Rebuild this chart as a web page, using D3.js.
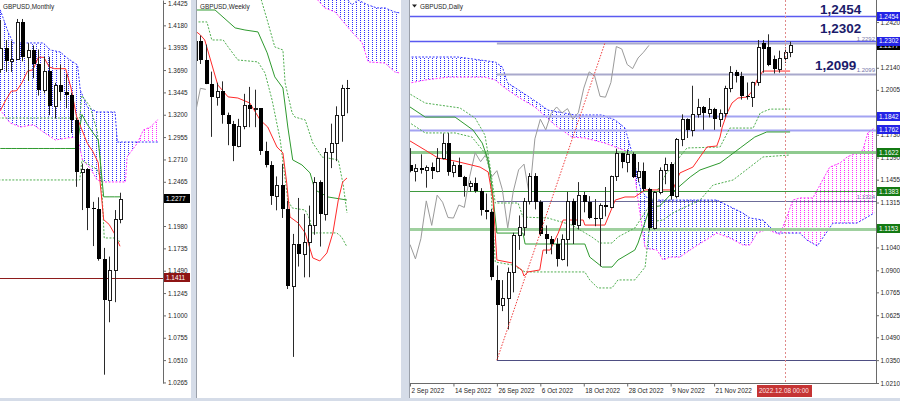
<!DOCTYPE html>
<html><head><meta charset="utf-8">
<script src="https://cdn.jsdelivr.net/npm/d3@7/dist/d3.min.js"></script>
<style>
html,body{margin:0;padding:0;background:#d5dce8;overflow:hidden}
svg{display:block}
text{font-family:"Liberation Sans",Arial,sans-serif}
</style></head><body>
<svg id="chart" width="900" height="401"></svg>
<script>
// ================= DATA =================
// ---- Monthly (index 0 = Feb 2021 ... 22 = Dec 2022)
const mOpen  = [1.3705,1.3930,1.3785,1.3810,1.4220,1.3830,1.3905,1.3755,1.3470,1.3680,1.3300,1.3530,1.3445,1.3415,1.3140,1.2570,1.2600,1.2177,1.2163,1.1620,1.1170,1.1495,1.2055];
const mHigh  = [1.4240,1.4018,1.4010,1.4250,1.4250,1.3985,1.3960,1.3915,1.3835,1.3835,1.3550,1.3750,1.3645,1.3440,1.3165,1.2665,1.2615,1.2245,1.2295,1.1740,1.1645,1.2155,1.2345];
const mLow   = [1.3660,1.3670,1.3670,1.3800,1.3785,1.3570,1.3600,1.3410,1.3435,1.3195,1.3160,1.3355,1.3270,1.3000,1.2410,1.2155,1.1935,1.1760,1.1600,1.0350,1.0925,1.1145,1.2010];
const mClose = [1.3930,1.3785,1.3810,1.4220,1.3830,1.3905,1.3755,1.3470,1.3680,1.3300,1.3530,1.3445,1.3415,1.3140,1.2570,1.2600,1.2177,1.2163,1.1620,1.1170,1.1495,1.2055,1.2277];
const mTenkan = [1.3245,1.3360,1.3458,1.3463,1.3553,1.3678,1.3693,1.3830,1.3830,1.3723,1.3705,1.3705,1.3705,1.3493,1.3185,1.3035,1.2885,1.2798,1.2675,1.2050,1.1998,1.1895,1.1758];
const mKijun  = [1.2830,1.2830,1.2830,1.2830,1.2830,1.2830,1.2830,1.2830,1.2830,1.2830,1.2830,1.2830,1.2830,1.2830,1.2830,1.3203,1.3093,1.3005,1.2925,1.2300,1.2300,1.2300,1.2300];
const mSpanA = [[-1,1.4450],[0,1.4348],[1.5,1.4096],[2.4,1.3987],[7.9,1.3987],[9.2,1.3910],[11,1.3888],[12.3,1.3822],[14.2,1.3745],[14.7,1.3471],[16,1.3285],[17.8,1.3230],[21.1,1.3230],[21.5,1.2901],[29,1.2901]];
const mSpanB = [[-1,1.3360],[0,1.3252],[1.8,1.3110],[3.7,1.3066],[6.1,1.3090],[7.9,1.3011],[10.1,1.2923],[12.3,1.2945],[14.2,1.2956],[15.1,1.2704],[16.5,1.2616],[17.8,1.2485],[18.9,1.2463],[23,1.2463],[23.3,1.2737],[25.2,1.2890],[26.3,1.3033],[27.6,1.3066],[28.9,1.3143],[29,1.3143]];
const mDash1 = [[-1,1.3164],[14.6,1.3164],[15,1.3410],[16.5,1.3290],[17.8,1.3020],[18.4,1.2700],[18.9,1.2101],[19.1,1.1849],[21.5,1.1849],[22,1.1800]];
const mDash2 = [[-1,1.2485],[14.6,1.2485],[15,1.2700],[17.8,1.2600],[18.6,1.2485]];
const mTicks = ["1.4425","1.4180","1.3935","1.3690","1.3445","1.3200","1.2955","1.2710","1.2465","1.1980","1.1735","1.1490","1.1245","1.1000","1.0755","1.0510","1.0265"];
const mDateIdx = [-2,6,14,22];
const mDateLabels = ["1 Dec 2020","1 Aug 2021","1 Apr 2022","1 Dec 2022"];
const mLevel = 1.1411;
const mBoxes = [1.2277,1.1411];

// ---- Weekly (position 0 = week of 22 May 2022 ... 28 = week of 4 Dec 2022), week index w = position-1
const wOpen  = [1.2490,1.2625,1.2490,1.2315,1.2220,1.2265,1.2095,1.2030,1.1870,1.2010,1.2165,1.2135,1.2140,1.1830,1.1735,1.1510,1.1590,1.1418,1.0859,1.1166,1.1090,1.1175,1.1300,1.1610,1.1380,1.1825,1.1890,1.2090,1.2285];
const wHigh  = [1.2645,1.2665,1.2600,1.2405,1.2325,1.2335,1.2110,1.2050,1.2065,1.2245,1.2295,1.2275,1.2140,1.1900,1.1760,1.1650,1.1740,1.1475,1.1236,1.1495,1.1380,1.1440,1.1645,1.1622,1.1855,1.2030,1.2155,1.2310,1.2345];
const wLow   = [1.2475,1.2460,1.2315,1.1935,1.2160,1.2030,1.1875,1.1760,1.1860,1.1990,1.2005,1.2005,1.1805,1.1715,1.1445,1.1406,1.1351,1.0839,1.0350,1.1001,1.0923,1.0924,1.1230,1.1145,1.1332,1.1710,1.1760,1.1900,1.2105];
const wClose = [1.2625,1.2490,1.2315,1.2220,1.2265,1.2095,1.2030,1.1870,1.2010,1.2165,1.2135,1.2140,1.1830,1.1735,1.1510,1.1590,1.1418,1.0859,1.1166,1.1090,1.1175,1.1300,1.1610,1.1380,1.1825,1.1890,1.2090,1.2285,1.2277];
const wTenkan = [[-1,1.2700],[0,1.2669],[0.8,1.2633],[3.2,1.2309],[5.1,1.2223],[6.9,1.2215],[9.1,1.2179],[11,1.2057],[12.4,1.2006],[14.1,1.1862],[15.2,1.1819],[15.9,1.1603],[16.5,1.1358],[18,1.1315],[19.3,1.1243],[20.7,1.1063],[22,1.1041],[23.3,1.1099],[24.4,1.1243],[25.4,1.1481],[26.2,1.1610],[27,1.1639]];
const wKijun  = [[-1,1.2849],[2.7,1.2849],[6.4,1.2720],[8.2,1.2705],[10.6,1.2691],[12.3,1.2540],[13.7,1.2367],[15.2,1.2287],[16.1,1.2006],[17,1.1769],[18.7,1.1733],[20.2,1.1675],[21.1,1.1553],[23.5,1.1502],[27,1.1480]];
const wDash1  = [[-1,1.2763],[1.2,1.2763],[2.1,1.2633],[4.2,1.2633],[5.1,1.2583],[6.9,1.2489],[10.6,1.2475],[11.9,1.2395],[13.2,1.2201],[14.7,1.1913],[16.1,1.1480],[16.9,1.1423],[19.3,1.1408],[20.2,1.1336],[20.5,1.1243],[25.1,1.1243],[26,1.1214],[27,1.1142]];
const wDash2  = [[11,1.2950],[12.3,1.2777],[13.7,1.2583],[15.2,1.2561],[15.6,1.2323],[16.9,1.2107],[17.4,1.2078],[19.3,1.2057],[20.7,1.1891],[22.4,1.1790],[25.4,1.1769],[26.3,1.1589],[27,1.1387]];
const wSpanA  = [[15,1.3400],[21.6,1.3100],[25.7,1.2993],[27.9,1.2885],[29,1.2921],[30.9,1.2885],[32.5,1.2864],[34,1.2864],[35.8,1.2835],[36.7,1.2828]];
const wSpanB  = [[15,1.3200],[21.6,1.2921],[22.9,1.2864],[24.8,1.2835],[27.9,1.2691],[29.8,1.2612],[30.9,1.2475],[34,1.2467],[35.8,1.2403],[36.7,1.2395]];
const wDateIdx = [-2,6,14,22];
const wDateLabels = ["15 May 2022","10 Jul 2022","4 Sep 2022","30 Oct 2022"];

// ---- Daily (index 0 = 2 Sep 2022 ... 70 = 9 Dec 2022)
const dOpen  = [1.1545,1.1510,1.1525,1.1514,1.1532,1.1505,1.1588,1.1681,1.1500,1.1542,1.1472,1.1418,1.1436,1.1383,1.1270,1.1255,1.0840,1.0685,1.0733,1.0887,1.1116,1.1166,1.1325,1.1475,1.1320,1.1125,1.1090,1.1058,1.0970,1.1093,1.1325,1.1175,1.1360,1.1317,1.1223,1.1220,1.1300,1.1285,1.1475,1.1620,1.1565,1.1610,1.1470,1.1510,1.1395,1.1160,1.1380,1.1515,1.1550,1.1355,1.1705,1.1825,1.1760,1.1860,1.1900,1.1864,1.1890,1.1825,1.1865,1.2015,1.2115,1.2090,1.1965,1.1960,1.2050,1.2290,1.2270,1.2195,1.2135,1.2200,1.2235];
const dHigh  = [1.1648,1.1550,1.1610,1.1542,1.1560,1.1648,1.1738,1.1740,1.1565,1.1590,1.1478,1.1448,1.1468,1.1403,1.1370,1.1275,1.0930,1.0840,1.0917,1.1130,1.1236,1.1343,1.1495,1.1495,1.1329,1.1175,1.1110,1.1097,1.1120,1.1380,1.1339,1.1440,1.1380,1.1354,1.1336,1.1310,1.1410,1.1480,1.1645,1.1620,1.1640,1.1622,1.1563,1.1560,1.1405,1.1385,1.1530,1.1590,1.1563,1.1710,1.1855,1.1830,1.2030,1.1950,1.1906,1.1955,1.1895,1.1885,1.2030,1.2150,1.2127,1.2115,1.2050,1.2055,1.2310,1.2310,1.2345,1.2215,1.2245,1.2265,1.2300];
const dLow   = [1.1500,1.1444,1.1492,1.1406,1.1459,1.1500,1.1579,1.1479,1.1470,1.1472,1.1351,1.1382,1.1375,1.1235,1.1212,1.0839,1.0350,1.0650,1.0538,1.0765,1.1025,1.1112,1.1303,1.1273,1.1110,1.1001,1.0998,1.0923,1.0960,1.0924,1.1061,1.1150,1.1255,1.1213,1.1170,1.0924,1.1230,1.1280,1.1447,1.1525,1.1500,1.1465,1.1440,1.1385,1.1145,1.1150,1.1365,1.1427,1.1332,1.1340,1.1660,1.1710,1.1720,1.1835,1.1760,1.1836,1.1760,1.1778,1.1840,1.1990,1.2050,1.1945,1.1945,1.1900,1.2030,1.2110,1.2150,1.2105,1.2110,1.2170,1.2205];
const dClose = [1.1510,1.1525,1.1514,1.1532,1.1505,1.1588,1.1681,1.1500,1.1542,1.1472,1.1418,1.1436,1.1383,1.1270,1.1255,1.0859,1.0685,1.0733,1.0887,1.1116,1.1166,1.1325,1.1475,1.1320,1.1125,1.1090,1.1058,1.0970,1.1093,1.1325,1.1175,1.1360,1.1317,1.1223,1.1220,1.1300,1.1285,1.1475,1.1620,1.1565,1.1610,1.1470,1.1510,1.1395,1.1160,1.1380,1.1515,1.1550,1.1355,1.1705,1.1825,1.1760,1.1860,1.1900,1.1864,1.1890,1.1825,1.1865,1.2015,1.2115,1.2090,1.1965,1.1960,1.2050,1.2270,1.2255,1.2160,1.2135,1.2200,1.2235,1.2277];
const dTenkan = [[-1,1.1700],[0,1.1692],[2.8,1.1636],[5.2,1.1587],[8.3,1.1569],[12.9,1.1532],[14.4,1.1502],[15.3,1.1330],[16,1.0963],[18.8,1.0945],[20.6,1.0902],[21,1.0865],[21.7,1.0890],[23.9,1.0902],[24.5,1.1024],[25.8,1.1024],[27.3,1.1128],[28.2,1.1208],[31.9,1.1208],[32.2,1.1177],[35.9,1.1177],[37.8,1.1330],[39.6,1.1349],[41.4,1.1349],[43.3,1.1392],[48.4,1.1392],[49.7,1.1496],[52.1,1.1532],[53.4,1.1594],[54.7,1.1655],[56.5,1.1661],[57.1,1.1716],[57.5,1.1777],[58.4,1.1863],[59.3,1.1924],[60.4,1.1955],[62.1,1.1961],[63.2,1.2004],[63.9,1.2065],[65,1.2120],[70,1.2120]];
const dKijun  = [[-1,1.1900],[0,1.1900],[2.8,1.1838],[8.3,1.1838],[11.6,1.1759],[13.3,1.1679],[14.4,1.1575],[15.1,1.1410],[16,1.1128],[20.8,1.1128],[21.2,1.1061],[32.2,1.1061],[33.1,1.0981],[35.4,1.0920],[37.2,1.0920],[38.3,1.0963],[41.4,1.1024],[42,1.1067],[44.2,1.1287],[46,1.1294],[48.4,1.1379],[51.6,1.1471],[53.4,1.1514],[57.1,1.1557],[58.6,1.1594],[60.8,1.1649],[63.5,1.1716],[65.7,1.1747],[70,1.1747]];
const dDash1  = [[-1,1.2000],[0,1.1979],[2.8,1.1924],[9.2,1.1894],[12,1.1832],[13.8,1.1728],[14.7,1.1545],[15.7,1.1312],[19.9,1.1312],[20.8,1.1226],[25.4,1.1220],[29.8,1.1177],[33.5,1.1104],[35,1.1067],[37.2,1.1067],[38.3,1.1104],[41.4,1.1159],[44.2,1.1300],[47,1.1483],[51,1.1649],[57.1,1.1655],[58.9,1.1771],[63.2,1.1771],[64.5,1.1863],[66.3,1.1887],[70,1.1887]];
const dDash2  = [[-1,1.1810],[0,1.1802],[2.8,1.1741],[8.3,1.1741],[11.4,1.1716],[13.8,1.1618],[14.7,1.1514],[15.7,1.0951],[18.8,1.0933],[21.2,1.0890],[32.2,1.0890],[33.1,1.0841],[34.6,1.0792],[37.2,1.0792],[38.3,1.0841],[41.4,1.0841],[43.3,1.0920],[44.2,1.1196],[46.6,1.1208],[48.4,1.1251],[53.4,1.1330],[55.8,1.1422],[59.5,1.1453],[62.6,1.1532],[65,1.1594],[70,1.1606]];
const dSpanA  = [[-1,1.2206],[8.8,1.2206],[15.7,1.2175],[17,1.2145],[18,1.2047],[20.6,1.1991],[23.6,1.1924],[25.4,1.1881],[30.4,1.1851],[35.4,1.1851],[37.8,1.1820],[39.6,1.1771],[40.9,1.1618],[42.5,1.1392],[44,1.1330],[56.5,1.1330],[61.3,1.1251],[62.6,1.1220],[65,1.1208],[66.3,1.1165],[67.6,1.1128],[71.8,1.1128],[73.1,1.1085],[75,1.1049],[76,1.1098],[77.9,1.1189],[82.3,1.1189],[85.5,1.1251]];
const dSpanB  = [[-1,1.2040],[0,1.2047],[2.8,1.2065],[7,1.2083],[13.8,1.2083],[15.7,1.2065],[17.5,1.2016],[19.9,1.1961],[23,1.1900],[26.7,1.1789],[29.8,1.1716],[32.2,1.1710],[35.9,1.1679],[38.3,1.1649],[40.9,1.1618],[42,1.1330],[43.3,1.1036],[45.5,1.1024],[46.6,1.0963],[47.9,1.0981],[49.7,1.0981],[52.1,1.1036],[56.5,1.1128],[58.9,1.1098],[61.3,1.1055],[62.6,1.1055],[63.9,1.1128],[65.7,1.1150],[68.1,1.1120],[69.4,1.1226],[70.5,1.1330],[71.8,1.1343],[74.2,1.1343],[75,1.1392],[76,1.1453],[77.3,1.1532],[79.2,1.1557],[80.5,1.1594],[82.3,1.1618],[83.4,1.1636],[84.3,1.1741],[85.5,1.1771]];
const dTrendIdx = [16,35.9];
const dTrendPrice = [1.0350,1.2292];
const dFullLevels = [1.2454,1.2302,1.1842,1.1762,1.1622,1.1383,1.1153];
const dFibLevels = [1.2292,1.2099,1.1324,1.0350];
const dFibStart = 16;
const dFibLabels = ["1.2292","1.2099","1.1324"];
const dBigLabels = ["1,2454","1,2302","1,2099"];
const dBoxes = [1.2277,1.2454,1.2302,1.1842,1.1762,1.1622,1.1383,1.1153];
const dCursorIdx = 69;
const dCursorLabel = "2022.12.08 00:00";
const dTicks = ["1.2420","1.2140","1.2005","1.1730","1.1590","1.1455","1.1315","1.1040","1.0900","1.0765","1.0625","1.0490","1.0350","1.0210"];
const dDateIdx = [0,8,16,24,32,40,48,56];
const dDateLabels = ["2 Sep 2022","14 Sep 2022","26 Sep 2022","6 Oct 2022","18 Oct 2022","28 Oct 2022","9 Nov 2022","21 Nov 2022"];

// ================= DRAWING =================
const svg = d3.select('#chart');
const defs = svg.append('defs');
svg.append('rect').attr('width',900).attr('height',401).attr('fill','#d5dce8');
[[0,191],[197,401],[409,900]].forEach(([a,b])=>{
  svg.append('rect').attr('x',a).attr('y',0).attr('width',b-a).attr('height',398).attr('fill','#ffffff');
});
svg.append('line').attr('x1',196.5).attr('x2',196.5).attr('y1',0).attr('y2',398).attr('stroke','#9aa0aa');
svg.append('line').attr('x1',409.5).attr('x2',409.5).attr('y1',0).attr('y2',398).attr('stroke','#9aa0aa');

function hatch(id,color){
  const p = defs.append('pattern').attr('id',id).attr('patternUnits','userSpaceOnUse').attr('width',4).attr('height',2);
  p.append('rect').attr('x',0).attr('y',0).attr('width',1).attr('height',1).attr('fill',color);
}
hatch('hb','#3030ff'); hatch('hm','#ff30ff');

function clip(id,x,y,w,h){ defs.append('clipPath').attr('id',id).append('rect').attr('x',x).attr('y',y).attr('width',w).attr('height',h); }
clip('cM',0,0,163,383); clip('cW',197,0,204,383); clip('cD',410,0,466,383);
clip('cMa',0,380,191,20); clip('cWa',197,380,204,20);

const FS = 6.4;
function lineP(g,pts,x,y,color,dash,w){
  const ln = d3.line().x(d=>x(d[0])).y(d=>y(d[1]));
  g.append('path').attr('d',ln(pts)).attr('fill','none').attr('stroke',color).attr('stroke-width',w||1).attr('stroke-dasharray',dash||null);
}
function cloud(g,A,B,x,y,id){
  const below = d3.area().x(d=>x(d[0])).y0(d=>y(d[1])).y1(450);
  const above = d3.area().x(d=>x(d[0])).y0(-50).y1(d=>y(d[1]));
  defs.append('clipPath').attr('id',id+'a').append('path').attr('d',above(B));
  defs.append('clipPath').attr('id',id+'b').append('path').attr('d',below(B));
  g.append('path').attr('d',below(A)).attr('fill','url(#hb)').attr('clip-path',`url(#${id}a)`);
  g.append('path').attr('d',above(A)).attr('fill','url(#hm)').attr('clip-path',`url(#${id}b)`);
  lineP(g,A,x,y,'#3535ff','2,1.5');
  lineP(g,B,x,y,'#ff35ff','2,1.5');
}
function candles(g,O,H,L,C,x,y,off){
  O.forEach((o,i)=>{
    const cx = Math.round(x(i+off));
    const bull = C[i]>=o;
    g.append('line').attr('x1',cx+0.5).attr('x2',cx+0.5).attr('y1',y(H[i])).attr('y2',y(L[i])).attr('stroke','#2a2a2a').attr('stroke-width',1);
    const yt = Math.round(y(Math.max(o,C[i]))), yb = Math.round(y(Math.min(o,C[i])));
    if(bull){
      g.append('rect').attr('x',cx-0.5).attr('y',yt+0.5).attr('width',3).attr('height',Math.max(1,yb-yt)).attr('fill','#fff').attr('stroke','#1a1a1a').attr('stroke-width',1);
    } else {
      g.append('rect').attr('x',cx-1).attr('y',yt).attr('width',4).attr('height',Math.max(1,yb-yt)).attr('fill','#000');
    }
  });
}
function styleAxis(a){
  a.selectAll('path.domain').attr('stroke','#6a6a6a');
  a.selectAll('line').attr('stroke','#6a6a6a');
  a.selectAll('text').attr('font-size',FS).attr('fill','#1e1e1e').attr('font-family','"Liberation Sans",Arial,sans-serif');
}
function box(g,xx,w,yv,color,label){
  g.append('rect').attr('x',xx).attr('y',Math.round(yv-4.5)).attr('width',w).attr('height',9).attr('fill',color);
  g.append('text').attr('x',xx+2).attr('y',yv).attr('dy','0.34em').attr('font-size',FS).attr('fill','#fff').text(label);
}

// ---------- MONTHLY ----------
const xM = d3.scaleLinear().domain([0,22]).range([0.3,120]);
const yM = d3.scaleLinear().domain([1.0259,1.4458]).range([383,0]);
const gM = svg.append('g').attr('clip-path','url(#cM)');
cloud(gM,mSpanA,mSpanB,xM,yM,'mc');
gM.append('line').attr('x1',0).attr('x2',163).attr('y1',Math.round(yM(mLevel))+0.5).attr('y2',Math.round(yM(mLevel))+0.5).attr('stroke','#8e1c1c');
lineP(gM,mDash1,xM,yM,'#4fae4f','2,1.5');
lineP(gM,mDash2,xM,yM,'#4fae4f','2,1.5');
lineP(gM,mKijun.map((v,i)=>[i,v]),xM,yM,'#2f9a2f');
lineP(gM,mTenkan.map((v,i)=>[i,v]),xM,yM,'#ff2a2a');
candles(gM,mOpen,mHigh,mLow,mClose,xM,yM,0);
const aMy = svg.append('g').attr('transform','translate(163,0)')
  .call(d3.axisRight(yM).tickValues(mTicks.map(Number)).tickFormat(d3.format('.4f')).tickSize(3).tickSizeOuter(0).tickPadding(2));
styleAxis(aMy);
const aMx = svg.append('g').attr('transform','translate(0,383.5)').attr('clip-path','url(#cMa)')
  .call(d3.axisBottom(xM).tickValues(mDateIdx).tickFormat((d,i)=>mDateLabels[i]).tickSize(3).tickSizeOuter(0).tickPadding(1.5));
styleAxis(aMx); aMx.selectAll('text').attr('text-anchor','start').attr('x',1);
aMx.select('path.domain').attr('d','M0,0H163');
box(svg,164,26,yM(mBoxes[0]),'#000000','1.2277');
box(svg,164,26,yM(mBoxes[1]),'#8e1414','1.1411');
svg.append('text').attr('x',3).attr('y',8.5).attr('font-size',FS).attr('fill','#1e1e1e').text('GBPUSD,Monthly');

// ---------- WEEKLY ----------
const xW = d3.scaleLinear().domain([0,27]).range([200.4,347]);
const yW = d3.scaleLinear().domain([1.0162,1.2921]).range([383,0]);
const gW = svg.append('g').attr('clip-path','url(#cW)');
cloud(gW,wSpanA,wSpanB,xW,yW,'wc');
lineP(gW,wDash1,xW,yW,'#4fae4f','2,1.5');
lineP(gW,wDash2,xW,yW,'#4fae4f','2,1.5');
lineP(gW,wKijun,xW,yW,'#2f9a2f');
lineP(gW,wTenkan,xW,yW,'#ff2a2a');
// lagging span: close shifted 26 weeks back
lineP(gW,wClose.map((v,i)=>[i-1-26,v]).filter(d=>d[0]>=-3),xW,yW,'#9a9a9a');
candles(gW,wOpen,wHigh,wLow,wClose,xW,yW,-1);
const aWx = svg.append('g').attr('transform','translate(0,383.5)').attr('clip-path','url(#cWa)')
  .call(d3.axisBottom(xW).tickValues(wDateIdx).tickFormat((d,i)=>wDateLabels[i]).tickSize(3).tickSizeOuter(0).tickPadding(1.5));
styleAxis(aWx); aWx.selectAll('text').attr('text-anchor','start').attr('x',1);
aWx.select('path.domain').attr('d','M197,0H401');
svg.append('text').attr('x',200).attr('y',8.5).attr('font-size',FS).attr('fill','#1e1e1e').text('GBPUSD,Weekly');

// ---------- DAILY ----------
const xD = d3.scaleLinear().domain([0,70]).range([410,790.1]);
const yD = d3.scaleLinear().domain([1.0210,1.2555]).range([383,0]);
const gD = svg.append('g').attr('clip-path','url(#cD)');
cloud(gD,dSpanA,dSpanB,xD,yD,'dc');
// horizontal levels
const lvlStyle = {1.2454:['#5a5af0',1.3],1.2302:['#5a5af0',1.3],1.1842:['#a3a3f2',2.2],1.1762:['#a3a3f2',2.2],1.1622:['#8fca8f',3],1.1383:['#3f9a3f',1],1.1153:['#9fd09f',3]};
dFullLevels.forEach(v=>{
  const yy = Math.round(yD(v))+0.5;
  gD.append('line').attr('x1',410).attr('x2',876).attr('y1',yy).attr('y2',yy).attr('stroke',lvlStyle[v][0]).attr('stroke-width',lvlStyle[v][1]);
});
const fibStyle = [['#a9a9cc',2],['#a9a9cc',2],['#6c6c98',1],['#4e4e82',1]];
dFibLevels.forEach((v,i)=>{
  const yy = Math.round(yD(v))+0.5;
  gD.append('line').attr('x1',xD(dFibStart)).attr('x2',876).attr('y1',yy).attr('y2',yy).attr('stroke',fibStyle[i][0]).attr('stroke-width',fibStyle[i][1]);
});
// lagging span: close shifted 26 days back
lineP(gD,dClose.map((v,i)=>[i-26,v]).filter(d=>d[0]>=-2),xD,yD,'#9a9a9a');
lineP(gD,dDash1,xD,yD,'#4fae4f','2,1.5');
lineP(gD,dDash2,xD,yD,'#4fae4f','2,1.5');
lineP(gD,dKijun,xD,yD,'#2f9a2f');
lineP(gD,dTenkan,xD,yD,'#ff2a2a');
candles(gD,dOpen,dHigh,dLow,dClose,xD,yD,0);
lineP(gD,dTrendIdx.map((v,i)=>[v,dTrendPrice[i]]),xD,yD,'#f03c3c','1.5,1.5');
const cxv = Math.round(xD(dCursorIdx))+0.5;
svg.append('line').attr('x1',cxv).attr('x2',cxv).attr('y1',0).attr('y2',384).attr('stroke','#e08a8a').attr('stroke-dasharray','2,2');
// fib labels
dFibLabels.forEach((t,i)=>{
  svg.append('text').attr('x',875).attr('y',yD(dFibLevels[i])-2).attr('text-anchor','end').attr('font-size',6).attr('fill','#7575a8').text(t);
});
// big labels
const bigX = [820,820,815];
const bigY = [13.5,33,69.5];
dBigLabels.forEach((t,i)=>{
  svg.append('text').attr('x',bigX[i]).attr('y',bigY[i]).attr('font-family','"Liberation Serif","Times New Roman",serif').attr('font-weight','bold').attr('font-size',13.5).attr('fill','#1b1b6b').text(t);
});
const aDy = svg.append('g').attr('transform','translate(876,0)')
  .call(d3.axisRight(yD).tickValues(dTicks.map(Number)).tickFormat(d3.format('.4f')).tickSize(3).tickSizeOuter(0).tickPadding(1.5));
styleAxis(aDy);
aDy.select('path.domain').attr('d','M0.5,0V384');
const aDx = svg.append('g').attr('transform','translate(0,383.5)')
  .call(d3.axisBottom(xD).tickValues(dDateIdx).tickFormat((d,i)=>dDateLabels[i]).tickSize(3).tickSizeOuter(0).tickPadding(1.5));
styleAxis(aDx); aDx.selectAll('text').attr('text-anchor','start').attr('x',1);
aDx.select('path.domain').attr('d','M410,0H876');
const boxColors = ['#000000','#2323e6','#2323e6','#2323e6','#2323e6','#137a13','#137a13','#137a13'];
dBoxes.forEach((v,i)=>box(svg,877,23,yD(v),boxColors[i],d3.format('.4f')(v)));
svg.append('rect').attr('x',757).attr('y',385).attr('width',55).attr('height',12).attr('fill','#c53434');
svg.append('text').attr('x',759).attr('y',391).attr('dy','0.34em').attr('font-size',FS).attr('fill','#ffe6e6').text(dCursorLabel);
svg.append('path').attr('d','M412,4.5h5l-2.5,3z').attr('fill','#222');
svg.append('text').attr('x',420).attr('y',8.5).attr('font-size',FS).attr('fill','#1e1e1e').text('GBPUSD,Daily');
</script>
</body></html>
